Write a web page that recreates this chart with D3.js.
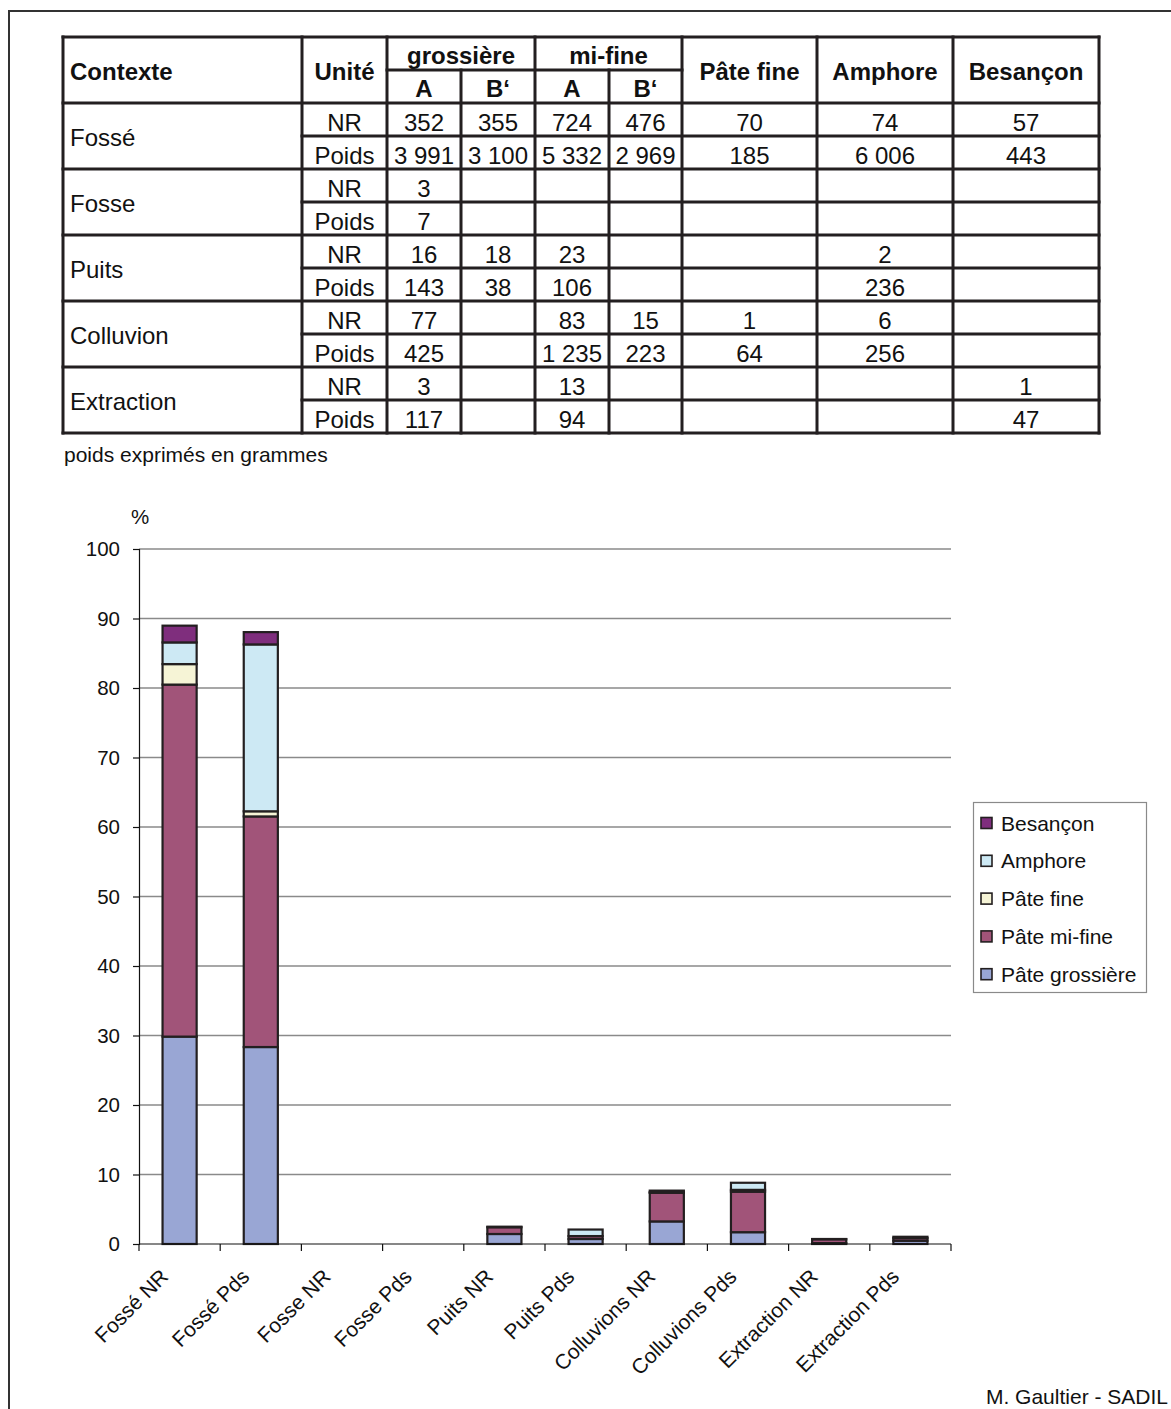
<!DOCTYPE html>
<html lang="fr">
<head>
<meta charset="utf-8">
<title>Céramique par contexte</title>
<script src="https://cdn.jsdelivr.net/npm/d3@7/dist/d3.min.js"></script>
<style>
  html, body { margin: 0; padding: 0; background: #fff; }
  svg { display: block; font-family: "Liberation Sans", Arial, Helvetica, sans-serif; }
</style>
</head>
<body>
<svg id="fig" width="1171" height="1409"></svg>
<script>
// ---- Tableau : décompte (NR) et poids (g) par contexte et par catégorie ----
const contexts = ["Fossé", "Fosse", "Puits", "Colluvion", "Extraction"];
const units = ["NR", "Poids"];
const tableRows = [
  ["352", "355", "724", "476", "70", "74", "57"],
  ["3 991", "3 100", "5 332", "2 969", "185", "6 006", "443"],
  ["3", "", "", "", "", "", ""],
  ["7", "", "", "", "", "", ""],
  ["16", "18", "23", "", "", "2", ""],
  ["143", "38", "106", "", "", "236", ""],
  ["77", "", "83", "15", "1", "6", ""],
  ["425", "", "1 235", "223", "64", "256", ""],
  ["3", "", "13", "", "", "", "1"],
  ["117", "", "94", "", "", "", "47"]
];

// ---- Graphique : pourcentages du total (NR ou poids) ----
const categories = ["Fossé NR", "Fossé Pds", "Fosse NR", "Fosse Pds", "Puits NR",
                    "Puits Pds", "Colluvions NR", "Colluvions Pds", "Extraction NR", "Extraction Pds"];
const pateGrossiere = [29.84, 28.34, 0, 0, 1.44, 0.72, 3.25, 1.70, 0.13, 0.47];
const pateMiFine    = [50.65, 33.18, 0, 0, 0.97, 0.42, 4.14, 5.83, 0.55, 0.38];
const pateFine      = [2.95, 0.74, 0, 0, 0, 0, 0.04, 0.26, 0, 0];
const amphore       = [3.12, 24.01, 0, 0, 0.08, 0.94, 0.25, 1.02, 0, 0];
const besancon      = [2.41, 1.77, 0, 0, 0, 0, 0, 0, 0.04, 0.19];
const seriesNames = ["Pâte grossière", "Pâte mi-fine", "Pâte fine", "Amphore", "Besançon"];
const yTicks = [0, 10, 20, 30, 40, 50, 60, 70, 80, 90, 100];

const svg = d3.select("#fig");
const ink = "#231f20";

// cadre général
svg.append("path")
  .attr("d", "M9,1412 L9,11 L1175,11")
  .attr("fill", "none").attr("stroke", "#333").attr("stroke-width", 2);

// ================= TABLEAU =================
const colX = [63, 302, 387, 461, 535, 609, 682, 817, 953, 1099];
const headTop = 37, headMid = 70, bodyTop = 103, rowH = 33;
const bodyBottom = bodyTop + rowH * tableRows.length;
const tbl = svg.append("g").attr("font-size", 24).attr("fill", "#111");

// textes d'en-tête
const headers = [
  { t: "Contexte", x: 70, y: 80, anchor: "start" },
  { t: "Unité", x: (colX[1] + colX[2]) / 2, y: 80 },
  { t: "grossière", x: (colX[2] + colX[4]) / 2, y: 64 },
  { t: "A", x: (colX[2] + colX[3]) / 2, y: 97 },
  { t: "B‘", x: (colX[3] + colX[4]) / 2, y: 97 },
  { t: "mi-fine", x: (colX[4] + colX[6]) / 2, y: 64 },
  { t: "A", x: (colX[4] + colX[5]) / 2, y: 97 },
  { t: "B‘", x: (colX[5] + colX[6]) / 2, y: 97 },
  { t: "Pâte fine", x: (colX[6] + colX[7]) / 2, y: 80 },
  { t: "Amphore", x: (colX[7] + colX[8]) / 2, y: 80 },
  { t: "Besançon", x: (colX[8] + colX[9]) / 2, y: 80 }
];
tbl.selectAll("text.head").data(headers).join("text")
  .attr("class", "head")
  .attr("x", d => d.x).attr("y", d => d.y)
  .attr("text-anchor", d => d.anchor || "middle")
  .attr("font-weight", "bold")
  .text(d => d.t);

// contextes (cellules fusionnées sur deux lignes)
tbl.selectAll("text.ctx").data(contexts).join("text")
  .attr("class", "ctx")
  .attr("x", 70)
  .attr("y", (d, i) => bodyTop + i * 2 * rowH + rowH + 10)
  .text(d => d);

// unités
tableRows.forEach((row, r) => {
  const yb = bodyTop + (r + 1) * rowH - 5;
  tbl.append("text")
    .attr("x", (colX[1] + colX[2]) / 2).attr("y", yb)
    .attr("text-anchor", "middle").text(units[r % 2]);
  row.forEach((v, c) => {
    if (!v) return;
    tbl.append("text")
      .attr("x", (colX[c + 2] + colX[c + 3]) / 2).attr("y", yb)
      .attr("text-anchor", "middle").text(v);
  });
});

// filets du tableau
const lines = [];
lines.push([colX[0], headTop, colX[9], headTop]);
lines.push([colX[2], headMid, colX[6], headMid]);
for (let r = 0; r <= tableRows.length; r++) {
  const y = bodyTop + r * rowH;
  const x0 = (r % 2 === 1) ? colX[1] : colX[0];
  lines.push([x0, y, colX[9], y]);
}
colX.forEach((x, i) => {
  const top = (i === 3 || i === 5) ? headMid : headTop;
  lines.push([x, top, x, bodyBottom]);
});
tbl.selectAll("line").data(lines).join("line")
  .attr("x1", d => d[0]).attr("y1", d => d[1])
  .attr("x2", d => d[2]).attr("y2", d => d[3])
  .attr("stroke", ink).attr("stroke-width", 3)
  .attr("stroke-linecap", "square");

svg.append("text")
  .attr("x", 64).attr("y", 462)
  .attr("font-size", 21).attr("fill", "#111")
  .text("poids exprimés en grammes");

// ================= GRAPHIQUE =================
const plot = { left: 139, right: 951, top: 549, bottom: 1244 };
const colors = {
  "Pâte grossière": "#99a6d4",
  "Pâte mi-fine": "#a15479",
  "Pâte fine": "#f6f4d6",
  "Amphore": "#cde9f4",
  "Besançon": "#7f2e7d"
};

const x = d3.scaleBand().domain(categories).range([plot.left, plot.right]).padding(0);
const y = d3.scaleLinear().domain([0, 100]).range([plot.bottom, plot.top]);

const chart = svg.append("g").attr("fill", "#111");

// quadrillage horizontal
chart.append("g").selectAll("line").data(yTicks.filter(t => t > 0)).join("line")
  .attr("x1", plot.left).attr("x2", plot.right)
  .attr("y1", d => y(d)).attr("y2", d => y(d))
  .attr("stroke", "#8a8a8a").attr("stroke-width", 1.6);

// axe des ordonnées
const yAxis = chart.append("g")
  .attr("transform", `translate(${plot.left},0)`)
  .call(d3.axisLeft(y).tickValues(yTicks).tickSize(6).tickPadding(13));
yAxis.select(".domain").attr("stroke", "#111").attr("stroke-width", 1.2);
yAxis.selectAll(".tick line").attr("stroke", "#111").attr("stroke-width", 1.2);
yAxis.selectAll(".tick text")
  .attr("font-size", 20.5).attr("fill", "#111")
  .attr("font-family", "\"Liberation Sans\", Arial, sans-serif");

chart.append("text")
  .attr("x", 140).attr("y", 524)
  .attr("text-anchor", "middle").attr("font-size", 20.5)
  .text("%");

// barres empilées
const rows = categories.map((c, i) => ({
  cat: c,
  "Pâte grossière": pateGrossiere[i],
  "Pâte mi-fine": pateMiFine[i],
  "Pâte fine": pateFine[i],
  "Amphore": amphore[i],
  "Besançon": besancon[i]
}));
const stacked = d3.stack().keys(seriesNames)(rows);
const barW = x.bandwidth() * 0.42;

chart.append("g").selectAll("g").data(stacked).join("g")
  .attr("fill", d => colors[d.key])
  .selectAll("rect")
  .data(d => d.filter(s => s[1] - s[0] > 0))
  .join("rect")
  .attr("x", d => x(d.data.cat) + (x.bandwidth() - barW) / 2)
  .attr("width", barW)
  .attr("y", d => y(d[1]))
  .attr("height", d => y(d[0]) - y(d[1]))
  .attr("stroke", ink).attr("stroke-width", 2.2);

// axe des abscisses : graduations aux limites des catégories
chart.append("line")
  .attr("x1", plot.left).attr("x2", plot.right)
  .attr("y1", plot.bottom).attr("y2", plot.bottom)
  .attr("stroke", "#111").attr("stroke-width", 1.2);
const bounds = categories.map(c => x(c)).concat([plot.right]);
chart.append("g").selectAll("line").data(bounds).join("line")
  .attr("x1", d => d).attr("x2", d => d)
  .attr("y1", plot.bottom).attr("y2", plot.bottom + 7)
  .attr("stroke", "#111").attr("stroke-width", 1.2);

chart.append("g").selectAll("text").data(categories).join("text")
  .attr("transform", d => `translate(${x(d) + x.bandwidth() / 2 - 10},${plot.bottom + 34}) rotate(-45)`)
  .attr("text-anchor", "end")
  .attr("font-size", 21)
  .text(d => d);

// légende
const legend = svg.append("g");
legend.append("rect")
  .attr("x", 973.5).attr("y", 802.5).attr("width", 173).attr("height", 190)
  .attr("fill", "#fff").attr("stroke", "#8a8a8a").attr("stroke-width", 1.2);
const legendOrder = seriesNames.slice().reverse();
const li = legend.selectAll("g.item").data(legendOrder).join("g")
  .attr("class", "item")
  .attr("transform", (d, i) => `translate(981,${823 + i * 37.8})`);
li.append("rect")
  .attr("x", 0).attr("y", -5.5).attr("width", 11).attr("height", 11)
  .attr("fill", d => colors[d]).attr("stroke", ink).attr("stroke-width", 1.6);
li.append("text")
  .attr("x", 20).attr("y", 7.5)
  .attr("font-size", 21).attr("fill", "#111")
  .text(d => d);

// crédit
svg.append("text")
  .attr("x", 1168).attr("y", 1404)
  .attr("text-anchor", "end").attr("font-size", 21).attr("fill", "#111")
  .text("M. Gaultier - SADIL");
</script>
</body>
</html>
